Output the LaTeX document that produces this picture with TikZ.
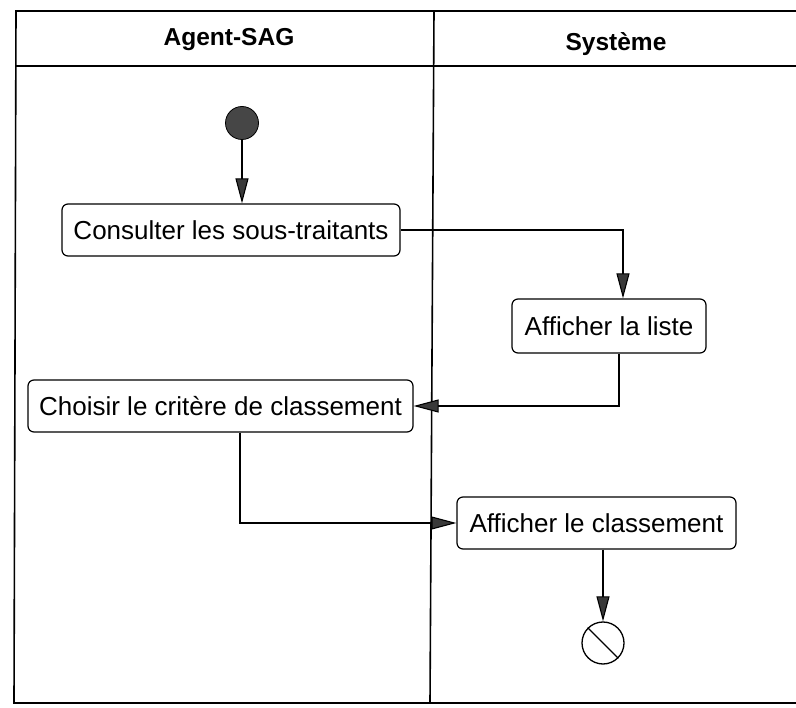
\documentclass[tikz,border=0pt]{standalone}
\usepackage{fontspec}
\setmainfont{Liberation Sans}
\usetikzlibrary{arrows.meta}
\begin{document}
\begin{tikzpicture}[x=1pt,y=-1pt,
  frameline/.style={line width=1.6pt},
  action/.style={draw, line width=1.2pt, rounded corners=6pt, fill=white,
    font=\fontsize{26}{31}\selectfont, inner sep=0pt, anchor=center},
  lanehead/.style={font=\bfseries\fontsize{24.5}{29}\selectfont},
  flow/.style={line width=1.1pt, -{Triangle[length=25pt,width=13pt,fill=gray!45!black]}},
  startnode/.style={circle, draw, line width=0.8pt, fill=gray!55!black, minimum size=33pt, inner sep=0pt},
  endnode/.style={circle, draw, line width=1.3pt, minimum size=42pt, inner sep=0pt}
]
\useasboundingbox (0,0) rectangle (796,708);

% swimlane frame
\draw[frameline] (796,11) -- (16,11) -- (14,703) -- (796,703);
\draw[frameline] (16,66) -- (796,66);
\draw[frameline] (434,11) -- (430,703);

% lane titles
\node[lanehead] (laneA) at (229,40) {Agent-SAG};
\node[lanehead] (laneS) at (616,44) {Système};

% activity nodes
\node[startnode] (init) at (242,123) {};
\node[action, minimum width=338pt, minimum height=52pt] (consult) at (231,230) {Consulter les sous-traitants};
\node[action, minimum width=194pt, minimum height=54pt] (liste) at (609,326) {Afficher la liste};
\node[action, minimum width=385pt, minimum height=52pt] (choix) at (220.5,406) {Choisir le critère de classement};
\node[action, minimum width=279pt, minimum height=52pt] (classe) at (596.5,523) {Afficher le classement};
\node[endnode] (fin) at (603,643) {};
\draw[line width=1.3pt] (fin.135) -- (fin.-45);

% control flow
\draw[flow] (init) -- (init |- consult.north);
\draw[flow] (consult.east) -| ([xshift=14pt]liste.north);
\draw[flow] ([xshift=10pt]liste.south) |- (choix.east);
\draw[flow] ([xshift=19.5pt]choix.south) |- (classe.west);
\draw[flow] (classe.south -| fin) -- (fin.north);
\end{tikzpicture}
\end{document}
